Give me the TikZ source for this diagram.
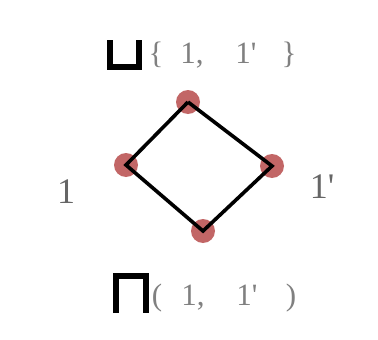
\documentclass[tikz,border=0pt]{standalone}
\usepackage{fontspec}
\setmainfont{Liberation Serif}
\begin{document}
\begin{tikzpicture}[x=1pt,y=-1pt,
  dot/.style={circle,fill=red!60!black!70,opacity=0.85,minimum size=24pt,inner sep=0pt},
  edge/.style={line width=3.6pt,black},
  txt/.style={text=black!50,font=\fontsize{31}{31}\selectfont,inner sep=0pt,anchor=base},
  lbl/.style={text=black!60,font=\fontsize{36}{36}\selectfont,inner sep=0pt,anchor=base},
  sym/.style={line width=6pt,black}]
\useasboundingbox (0,0) rectangle (378,340);
\fill[white] (0,0) rectangle (378,340);
% dots
\node[dot] (t) at (188,102) {};
\node[dot] (l) at (126,165) {};
\node[dot] (r) at (272,166) {};
\node[dot] (b) at (203,231) {};
\draw[edge] (t.center) -- (l.center) -- (b.center) -- (r.center) -- (t.center);
% labels
\node[lbl] (one) at (66,203) {1};
\node[lbl] (onep) at (322,198) {1\textquotesingle};
% join symbol
\draw[sym] (110,40) -- (110,67) -- (139,67) -- (139,40);
\node[txt] (tb1) at (156,63) {\{};
\node[txt] (t1) at (192,63) {1,};
\node[txt] (t2) at (246,63) {1\textquotesingle};
\node[txt] (tb2) at (289,63) {\}};
% meet symbol
\draw[sym] (116,313) -- (116,276) -- (146,276) -- (146,313);
\node[txt] (bb1) at (157,305) {(};
\node[txt] (b1) at (193,305) {1,};
\node[txt] (b2) at (247,305) {1\textquotesingle};
\node[txt] (bb2) at (291,305) {)};
\end{tikzpicture}
\end{document}
